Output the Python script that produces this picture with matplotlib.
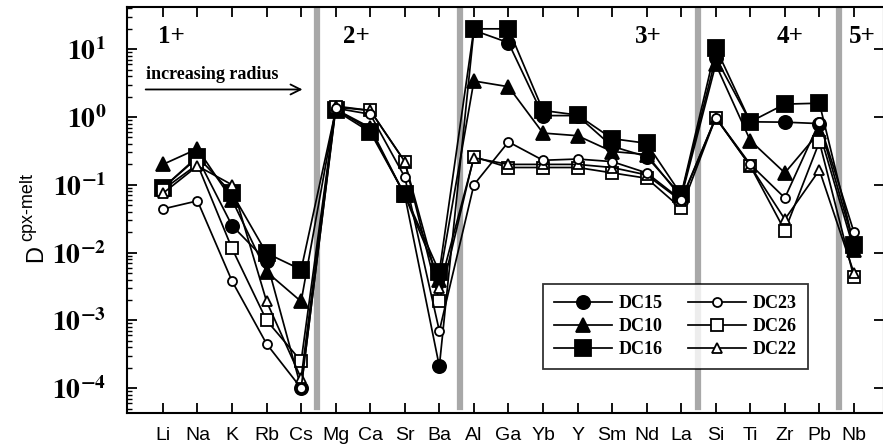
import numpy as np
import matplotlib
matplotlib.use("Agg")
import matplotlib.pyplot as plt
from matplotlib.ticker import FixedLocator, FuncFormatter, NullFormatter

plt.rcParams["mathtext.fontset"] = "stix"

elements = ["Li", "Na", "K", "Rb", "Cs", "Mg", "Ca", "Sr", "Ba", "Al", "Ga",
            "Yb", "Y", "Sm", "Nd", "La", "Si", "Ti", "Zr", "Pb", "Nb"]

dc15 = [0.09, 0.25, 0.025, 0.0075, 1.0e-4, 1.3, 0.65, 0.07, 2.1e-4, 19, 12.5,
        1.05, 1.05, 0.37, 0.26, 0.07, 7.5, 0.85, 0.84, 0.8, 0.013]
dc10 = [0.2, 0.34, 0.06, 0.0052, 0.0019, 1.3, 0.7, 0.07, 0.004, 3.4, 2.8,
        0.58, 0.53, 0.31, 0.28, 0.065, 6.0, 0.45, 0.15, 0.6, 0.011]
dc16 = [0.09, 0.26, 0.075, 0.0098, 0.0056, 1.25, 0.6, 0.072, 0.0052, 20, 20,
        1.25, 1.07, 0.48, 0.41, 0.072, 10.5, 0.85, 1.55, 1.6, 0.013]
dc23 = [0.044, 0.058, 0.0038, 0.00045, 1.0e-4, 1.35, 1.1, 0.13, 0.0007, 0.1, 0.43,
        0.23, 0.24, 0.22, 0.15, 0.06, 0.98, 0.2, 0.064, 0.84, 0.02]
dc26 = [0.085, 0.2, 0.0115, 0.001, 0.00025, 1.4, 1.25, 0.22, 0.0019, 0.26, 0.18,
        0.18, 0.18, 0.15, 0.125, 0.045, 0.98, 0.19, 0.021, 0.43, 0.0043]
dc22 = [0.075, 0.19, 0.1, 0.0019, 0.00014, 1.45, 1.25, 0.22, 0.003, 0.25, 0.2,
        0.2, 0.2, 0.18, 0.14, 0.058, 0.98, 0.19, 0.031, 0.165, 0.005]

decades = [1e-4, 1e-3, 1e-2, 1e-1, 1e0, 1e1]
charge_bounds = [4.46, 8.6, 15.5, 19.57]
charge_labels = ["1+", "2+", "3+", "4+", "5+"]
charge_pos = [0.25, 5.6, 14.05, 18.15, 20.25]

x = np.arange(len(elements))

fig = plt.figure(figsize=(8.83, 4.47), dpi=100)
ax = fig.add_axes([127 / 883, 34 / 447, 757 / 883, 406 / 447])

for b in charge_bounds:
    ax.axvline(b, ymin=0.015, ymax=1, color="#a8a8a8", lw=4.5, zorder=1)

# filled first, open symbols on top
styles = [
    ("DC16", dc16, "s", "black", 11.5),
    ("DC15", dc15, "o", "black", 9.5),
    ("DC10", dc10, "^", "black", 10.5),
    ("DC26", dc26, "s", "white", 8.5),
    ("DC22", dc22, "^", "white", 7.5),
    ("DC23", dc23, "o", "white", 6.5),
]
handles = {}
for name, vals, m, fc, ms in styles:
    h, = ax.plot(x, vals, marker=m, ms=ms, mfc=fc, mec="black", mew=1.3,
                 color="black", lw=1.25, label=name, zorder=3)
    handles[name] = h

ax.set_yscale("log")
ax.set_xlim(-1.04, 20.87)
ax.set_ylim(4.3e-5, 42)

ax.xaxis.set_major_locator(FixedLocator(x))
ax.set_xticklabels(elements, fontfamily="Liberation Sans", fontsize=14)
minors = [m * d for d in [1e-5] + decades for m in range(2, 10)]
minors = [v for v in minors if 4.3e-5 < v < 42]
ax.yaxis.set_major_locator(FixedLocator(decades))
ax.yaxis.set_minor_locator(FixedLocator(minors))
ax.yaxis.set_minor_formatter(NullFormatter())
ax.yaxis.set_major_formatter(FuncFormatter(
    lambda v, p: r"$\mathbf{10^{%d}}$" % int(round(np.log10(v)))))

ax.tick_params(axis="x", which="major", direction="in", length=7, width=1.3,
               top=True, bottom=True, pad=10)
ax.tick_params(axis="y", which="major", direction="in", length=7, width=1.3,
               left=True, right=True, pad=15, labelsize=20)
ax.tick_params(axis="y", which="minor", direction="in", length=3.5, width=1.0,
               left=True, right=False)
for s in ax.spines.values():
    s.set_linewidth(1.5)

for lab, xp in zip(charge_labels, charge_pos):
    ax.text(xp, 15.5, lab, fontfamily="Liberation Serif", fontweight="bold",
            fontsize=18, ha="center", va="center")

ax.text(1.42, 4.2, "increasing radius", fontfamily="Liberation Serif",
        fontweight="bold", fontsize=13, ha="center", va="center")
ax.annotate("", xy=(4.12, 2.55), xytext=(-0.58, 2.55),
            arrowprops=dict(arrowstyle="->", lw=1.3, color="black",
                            mutation_scale=18))

fig.text(36 / 883, 1 - 253 / 447, "D", rotation=90, ha="center", va="center",
         fontfamily="Liberation Sans", fontsize=17)
fig.text(28 / 883, 1 - 241 / 447, "cpx-melt", rotation=90, ha="center",
         va="bottom", fontfamily="Liberation Sans", fontsize=13)

order = ["DC15", "DC10", "DC16", "DC23", "DC26", "DC22"]
leg = ax.legend([handles[n] for n in order], order, ncol=2, loc="upper left",
                bbox_to_anchor=(0.5495, 0.3177), borderaxespad=0,
                prop={"family": "Liberation Serif", "weight": "bold", "size": 13},
                frameon=True, fancybox=False, edgecolor="black",
                handlelength=3.2, handletextpad=0.4, columnspacing=1.4,
                labelspacing=0.35, borderpad=0.6)
leg.get_frame().set_linewidth(1.3)
leg.set_zorder(5)

fig.savefig("out.png", dpi=100)
